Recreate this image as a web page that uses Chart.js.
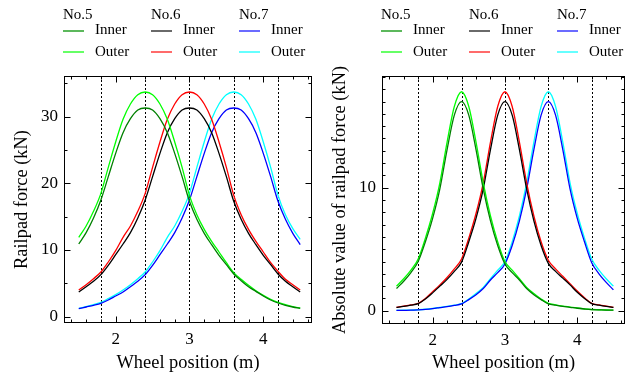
<!DOCTYPE html>
<html><head><meta charset="utf-8">
<script src="https://cdn.jsdelivr.net/npm/chart.js@4/dist/chart.umd.min.js"></script>
<style>
html,body{margin:0;padding:0;background:#fff;}
#wrap{position:relative;width:635px;height:374px;overflow:hidden;background:#fff;}
.box{position:absolute;top:0;height:374px;}
</style></head><body>
<div id="wrap">
<div class="box" style="left:0;width:318px"><canvas id="c1" width="318" height="374"></canvas></div>
<div class="box" style="left:318px;width:317px"><canvas id="c2" width="317" height="374"></canvas></div>
</div>
<script>
// ---- data ----
const xPos = [1.5,1.6,1.7,1.8,1.9,2.0,2.1,2.2,2.3,2.4,2.5,2.6,2.7,2.8,2.9,3.0,3.1,3.2,3.3,3.4,3.5,3.6,3.7,3.8,3.9,4.0,4.1,4.2,4.3,4.4,4.5];
const sleepers = [1.8,2.4,3.0,3.6,4.2];
const xTicks = [2,3,4];
const yTicksForce = [0,10,20,30];
const yTicksAbs = [0,10];
const groups = ['No.5','No.6','No.7'];
const sides = ['Inner','Outer'];

const no5InnerForce = [10.9,12.6,14.8,17.5,21.0,24.5,27.6,29.7,31.0,31.3,31.0,29.7,27.6,24.5,21.0,17.3,14.6,12.5,10.8,9.2,7.8,6.4,5.4,4.5,3.8,3.1,2.5,2.05,1.7,1.45,1.25];
const no5OuterForce = [11.9,13.6,15.8,18.5,22.4,26.2,29.6,31.9,33.3,33.7,33.3,31.9,29.6,26.2,22.4,18.2,15.3,13.1,11.3,9.7,8.1,6.6,5.6,4.7,3.9,3.2,2.6,2.15,1.8,1.5,1.3];
const no6InnerForce = [3.7,4.5,5.3,6.3,7.7,9.3,10.9,12.6,14.8,17.5,21.0,24.5,27.6,29.7,31.0,31.3,31.0,29.7,27.6,24.5,21.0,17.3,14.6,12.5,10.8,9.2,7.8,6.4,5.3,4.5,3.7];
const no6OuterForce = [4.0,4.8,5.7,6.7,8.2,9.9,11.9,13.6,15.8,18.5,22.4,26.2,29.6,31.9,33.3,33.7,33.3,31.9,29.6,26.2,22.4,18.2,15.3,13.1,11.3,9.7,8.1,6.8,5.6,4.8,4.0];
const no7InnerForce = [1.2,1.45,1.7,2.0,2.5,3.1,3.7,4.5,5.3,6.3,7.7,9.3,10.9,12.6,14.8,17.5,21.0,24.5,27.6,29.7,31.0,31.3,31.0,29.7,27.6,24.5,21.0,17.3,14.6,12.5,10.8];
const no7OuterForce = [1.25,1.5,1.8,2.15,2.7,3.3,4.0,4.8,5.7,6.7,8.2,9.9,11.9,13.6,15.8,18.5,22.4,26.2,29.6,31.9,33.3,33.7,33.3,31.9,29.6,26.2,22.4,18.2,15.3,13.2,11.6];

const no5InnerAbs = [1.8,2.4,3.1,4.0,5.6,7.5,9.9,13.1,15.9,17.0,15.9,13.1,9.9,7.3,5.3,3.8,3.1,2.5,1.8,1.3,0.9,0.55,0.45,0.35,0.28,0.2,0.14,0.09,0.07,0.05,0.04];
const no5OuterAbs = [2.0,2.6,3.3,4.2,5.9,7.9,10.4,13.7,16.6,17.8,16.6,13.7,10.4,7.7,5.6,4.0,3.3,2.6,1.9,1.4,0.95,0.6,0.48,0.38,0.3,0.22,0.15,0.1,0.08,0.06,0.05];
const no6InnerAbs = [0.27,0.35,0.45,0.57,0.95,1.45,2.0,2.55,3.2,3.95,5.6,7.5,9.9,13.1,15.9,17.0,15.9,13.1,9.9,7.3,5.3,3.85,3.2,2.65,2.1,1.5,1.0,0.57,0.45,0.35,0.27];
const no6OuterAbs = [0.28,0.37,0.47,0.6,1.0,1.55,2.1,2.7,3.4,4.2,5.9,7.9,10.4,13.7,16.6,17.8,16.6,13.7,10.4,7.7,5.6,4.1,3.4,2.8,2.2,1.6,1.05,0.6,0.47,0.37,0.28];
const no7InnerAbs = [0.02,0.03,0.04,0.07,0.11,0.17,0.25,0.33,0.43,0.55,0.9,1.3,1.8,2.5,3.1,3.8,5.3,7.3,9.9,13.1,15.9,17.0,15.9,13.1,9.9,7.5,5.6,3.9,3.0,2.3,1.7];
const no7OuterAbs = [0.03,0.04,0.05,0.08,0.12,0.18,0.26,0.35,0.45,0.57,0.95,1.4,1.9,2.6,3.3,4.0,5.6,7.7,10.4,13.7,16.6,17.8,16.6,13.7,10.4,7.9,5.9,4.2,3.3,2.6,2.0];

// ---- styles ----
const FONT = "'Liberation Serif', 'Times New Roman', serif";
const innerColors = ['#008000','#000000','#0000ff'];
const outerColors = ['#00ff00','#ff0000','#00ffff'];
const legendInner = ['#5cb85c','#6a6a6a','#6b6bff'];
const legendOuter = ['#66ff66','#ff6b6b','#66ffff'];

function series(innerArrs, outerArrs){
  const ds = [];
  for (let g=0; g<3; g++){
    ds.push({label: groups[g]+' '+sides[0], data: xPos.map((x,i)=>({x:x, y:innerArrs[g][i]})), borderColor: innerColors[g]});
    ds.push({label: groups[g]+' '+sides[1], data: xPos.map((x,i)=>({x:x, y:outerArrs[g][i]})), borderColor: outerColors[g]});
  }
  return ds.map(d=>Object.assign(d,{borderWidth:1.3, pointRadius:0, fill:false, cubicInterpolationMode:'monotone'}));
}

const framePlugin = {
  id:'frame',
  beforeDatasetsDraw(chart){
    const {ctx, chartArea:a, scales:{x}} = chart;
    ctx.save();
    ctx.strokeStyle='#000'; ctx.lineWidth=1; ctx.setLineDash([2,2]);
    sleepers.forEach(v=>{
      const px = Math.round(x.getPixelForValue(v))+0.5;
      ctx.beginPath(); ctx.moveTo(px,a.top); ctx.lineTo(px,a.bottom); ctx.stroke();
    });
    ctx.restore();
  },
  afterDatasetsDraw(chart, args, opts){
    const {ctx, chartArea:a, scales:{x,y}} = chart;
    ctx.save();
    ctx.strokeStyle='#000'; ctx.lineWidth=1;
    const L=Math.round(a.left)+0.5, R=Math.round(a.right)-0.5, T=Math.round(a.top)+0.5, B=Math.round(a.bottom)-0.5;
    ctx.strokeRect(L,T,R-L,B-T);
    ctx.beginPath();
    const xs0 = Math.ceil(x.min/opts.xMinor-1e-9);
    for (let k=xs0; k*opts.xMinor<=x.max+1e-9; k++){
      const v=k*opts.xMinor;
      const major = xTicks.some(t=>Math.abs(t-v)<1e-6);
      const len = major?6:3;
      const px = Math.round(x.getPixelForValue(v))+0.5;
      ctx.moveTo(px,B); ctx.lineTo(px,B-len);
      ctx.moveTo(px,T); ctx.lineTo(px,T+len);
    }
    const ys0 = Math.ceil(y.min/opts.yMinor-1e-9);
    for (let k=ys0; k*opts.yMinor<=y.max+1e-9; k++){
      const v=k*opts.yMinor;
      const major = opts.yMajor.some(t=>Math.abs(t-v)<1e-6);
      const len = major?6:3;
      const py = Math.round(y.getPixelForValue(v))+0.5;
      ctx.moveTo(L,py); ctx.lineTo(L+len,py);
      ctx.moveTo(R,py); ctx.lineTo(R-len,py);
    }
    ctx.stroke();
    ctx.restore();
  },
  afterDraw(chart){
    const ctx = chart.ctx;
    ctx.save();
    ctx.font = '15px '+FONT;
    ctx.fillStyle='#000';
    ctx.textBaseline='middle';
    ctx.textAlign='left';
    for (let g=0; g<3; g++){
      const gx = 63 + g*88;
      ctx.fillText(groups[g], gx, 15);
      ctx.fillText(sides[0], gx+32, 30);
      ctx.fillText(sides[1], gx+32, 52);
      ctx.lineWidth=2;
      ctx.strokeStyle=legendInner[g];
      ctx.beginPath(); ctx.moveTo(gx,31); ctx.lineTo(gx+21,31); ctx.stroke();
      ctx.strokeStyle=legendOuter[g];
      ctx.beginPath(); ctx.moveTo(gx,52); ctx.lineTo(gx+21,52); ctx.stroke();
    }
    ctx.restore();
  }
};

function makeChart(id, datasets, yMin, yMax, yTicks, yMinor, yTitle, padRight, xHeight, yTitlePad){
  return new Chart(document.getElementById(id), {
    type:'line',
    data:{datasets: datasets},
    options:{
      responsive:false, animation:false, devicePixelRatio:1,
      layout:{padding:{top:76, right:padRight, left:0, bottom:0}},
      plugins:{legend:{display:false}, tooltip:{enabled:false},
        frame:{xMinor:0.2, yMinor:yMinor, yMajor:yTicks}},
      scales:{
        x:{type:'linear', min:1.3, max:4.66,
          afterBuildTicks: s=>{ s.ticks = xTicks.map(v=>({value:v})); },
          afterFit: s=>{ s.height = xHeight; },
          grid:{display:false, drawTicks:false}, border:{display:false},
          ticks:{padding:6, font:{family:FONT, size:17}, color:'#000', maxRotation:0},
          title:{display:true, text:'Wheel position (m)', font:{family:FONT, size:18.4}, color:'#000', padding:{top:0,bottom:0}}
        },
        y:{type:'linear', min:yMin, max:yMax,
          afterBuildTicks: s=>{ s.ticks = yTicks.map(v=>({value:v})); },
          afterFit: s=>{ s.width = 64; },
          grid:{display:false, drawTicks:false}, border:{display:false},
          ticks:{padding:6, font:{family:FONT, size:17}, color:'#000'},
          title:{display:true, text:yTitle, font:{family:FONT, size:18.4}, color:'#000', padding:{top:yTitlePad,bottom:0}}
        }
      }
    },
    plugins:[framePlugin]
  });
}

makeChart('c1', series([no5InnerForce,no6InnerForce,no7InnerForce],[no5OuterForce,no6OuterForce,no7OuterForce]),
  -0.95, 36.1, yTicksForce, 5, 'Railpad force (kN)', 6, 51, 11);
makeChart('c2', series([no5InnerAbs,no6InnerAbs,no7InnerAbs],[no5OuterAbs,no6OuterAbs,no7OuterAbs]),
  -1.08, 19.08, yTicksAbs, 1, 'Absolute value of railpad force (kN)', 10, 50, 11);
</script>
</body></html>
